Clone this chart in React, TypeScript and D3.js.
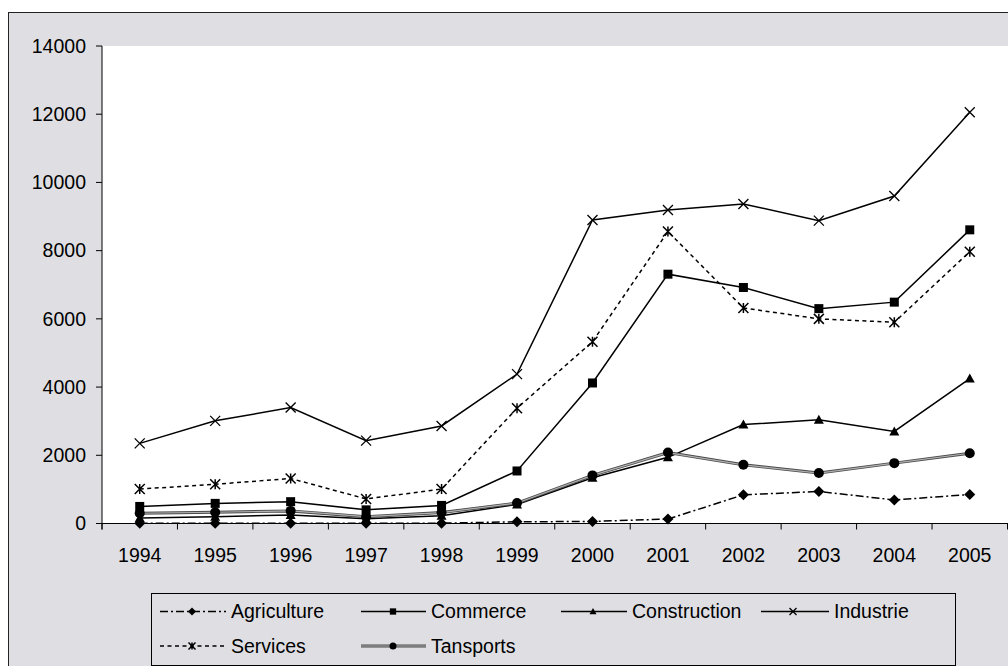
import React from "react";
import * as d3 from "d3";

const years = ["1994","1995","1996","1997","1998","1999","2000","2001","2002","2003","2004","2005"];
const agriculture = [10, 10, 10, 10, 10, 50, 60, 130, 840, 940, 690, 850];
const commerce = [500, 590, 640, 400, 530, 1540, 4120, 7310, 6920, 6300, 6490, 8610];
const construction = [160, 200, 250, 140, 230, 560, 1340, 1940, 2900, 3040, 2700, 4250];
const industrie = [2350, 3010, 3400, 2430, 2860, 4380, 8900, 9190, 9370, 8880, 9600, 12060];
const services = [1010, 1150, 1320, 720, 1010, 3380, 5330, 8560, 6320, 6000, 5900, 7970];
const tansports = [300, 330, 370, 200, 320, 600, 1410, 2080, 1720, 1480, 1770, 2060];
const yTicks = [0, 2000, 4000, 6000, 8000, 10000, 12000, 14000];

type Marker = "diamond" | "square" | "triangle" | "x" | "star" | "circle";
const series: { name: string; values: number[]; dash: string; marker: Marker; gray?: boolean }[] = [
  { name: "Agriculture", values: agriculture, dash: "8,3,2,3", marker: "diamond" },
  { name: "Commerce", values: commerce, dash: "", marker: "square" },
  { name: "Construction", values: construction, dash: "", marker: "triangle" },
  { name: "Industrie", values: industrie, dash: "", marker: "x" },
  { name: "Services", values: services, dash: "4,3.5", marker: "star" },
  { name: "Tansports", values: tansports, dash: "", marker: "circle", gray: true },
];

const FONT = "'Liberation Sans', Arial, sans-serif";

function markerEl(m: Marker, cx: number, cy: number, s: number, key?: string) {
  const h = s / 2;
  switch (m) {
    case "diamond":
      return <path key={key} d={`M${cx},${cy - h - 0.5}L${cx + h + 0.5},${cy}L${cx},${cy + h + 0.5}L${cx - h - 0.5},${cy}Z`} fill="#000" />;
    case "square":
      return <rect key={key} x={cx - h * 0.9} y={cy - h * 0.9} width={s * 0.9} height={s * 0.9} fill="#000" />;
    case "triangle":
      return <path key={key} d={`M${cx},${cy - h}L${cx + h},${cy + h * 0.8}L${cx - h},${cy + h * 0.8}Z`} fill="#000" />;
    case "x":
      return <path key={key} d={`M${cx - h},${cy - h}L${cx + h},${cy + h}M${cx - h},${cy + h}L${cx + h},${cy - h}`} stroke="#000" strokeWidth={1.3} fill="none" />;
    case "star":
      return <path key={key} d={`M${cx - h},${cy - h}L${cx + h},${cy + h}M${cx - h},${cy + h}L${cx + h},${cy - h}M${cx},${cy - h}L${cx},${cy + h}`} stroke="#000" strokeWidth={1.5} fill="none" />;
    case "circle":
      return <circle key={key} cx={cx} cy={cy} r={h} fill="#000" />;
  }
}

export default function App() {
  const W = 1008, H = 666;
  const left = 102, right = 1007.5, top = 46, bottom = 523.5;
  const x = d3.scaleBand<string>().domain(years).range([left, right]).padding(0);
  const y = d3.scaleLinear().domain([0, 14000]).range([bottom, top]);
  const bw = x.bandwidth();
  const cx = (yr: string) => (x(yr) as number) + bw / 2;
  const line = d3.line<number>().x((_, i) => cx(years[i])).y((v) => y(v));

  const legendItems = [
    { s: series[0], lx: 160, tx: 231, row: 0 },
    { s: series[1], lx: 361, tx: 431, row: 0 },
    { s: series[2], lx: 561, tx: 632, row: 0 },
    { s: series[3], lx: 761, tx: 834, row: 0 },
    { s: series[4], lx: 160, tx: 231, row: 1 },
    { s: series[5], lx: 361, tx: 431, row: 1 },
  ];
  const rowY = [611.5, 646];
  const boundaries = d3.range(0, years.length + 1).map((i) => left + i * bw);

  return (
    <svg width={W} height={H} style={{ position: "absolute", left: 0, top: 0 }} fontFamily={FONT}>
      <rect x={8.5} y={12.5} width={W + 10} height={H + 10} fill="#DFDFE3" stroke="#222" strokeWidth={1} />
      <rect x={left} y={top} width={W - left + 5} height={bottom - top} fill="#fff" />
      {/* axes */}
      <line x1={left} x2={left} y1={top} y2={bottom + 6} stroke="#000" strokeWidth={1} />
      <line x1={left} x2={W} y1={bottom} y2={bottom} stroke="#000" strokeWidth={1} />
      {yTicks.map((t) => (
        <g key={t}>
          <line x1={left - 6} x2={left} y1={y(t)} y2={y(t)} stroke="#000" />
          <text x={86} y={y(t) + 6.8} textAnchor="end" fontSize={19.5} fill="#000">{t}</text>
        </g>
      ))}
      {boundaries.map((b, i) => (
        <line key={i} x1={b} x2={b} y1={bottom} y2={bottom + 6} stroke="#000" />
      ))}
      {years.map((yr) => (
        <text key={yr} x={cx(yr)} y={562} textAnchor="middle" fontSize={19.5} fill="#000">{yr}</text>
      ))}
      {/* series */}
      {series.map((s) => (
        <g key={s.name}>
          {s.gray ? (
            <>
              <path d={line(s.values) || ""} fill="none" stroke="#4a4a4a" strokeWidth={3} />
              <path d={line(s.values) || ""} fill="none" stroke="#b0b0b0" strokeWidth={1.2} />
            </>
          ) : (
            <path d={line(s.values) || ""} fill="none" stroke="#000" strokeWidth={1.5} strokeDasharray={s.dash || undefined} />
          )}
          {s.values.map((v, i) => markerEl(s.marker, cx(years[i]), y(v), 10, `${s.name}-${i}`))}
        </g>
      ))}
      {/* legend */}
      <rect x={151.5} y={593.5} width={804} height={72} fill="#DFDFE3" stroke="#000" strokeWidth={1} />
      {legendItems.map(({ s, lx, tx, row }) => {
        const ly = rowY[row];
        const lx2 = tx - 5;
        const mx = lx + 32;
        return (
          <g key={s.name}>
            {s.gray ? (
              <>
                <line x1={lx} x2={lx2} y1={ly} y2={ly} stroke="#4a4a4a" strokeWidth={3} />
                <line x1={lx} x2={lx2} y1={ly} y2={ly} stroke="#b0b0b0" strokeWidth={1.2} />
              </>
            ) : (
              <line x1={lx} x2={lx2} y1={ly} y2={ly} stroke="#000" strokeWidth={1.5} strokeDasharray={s.dash || undefined} />
            )}
            {markerEl(s.marker, mx, ly, 7)}
            <text x={tx} y={ly + 6.5} fontSize={19.5} fill="#000">{s.name}</text>
          </g>
        );
      })}
    </svg>
  );
}
